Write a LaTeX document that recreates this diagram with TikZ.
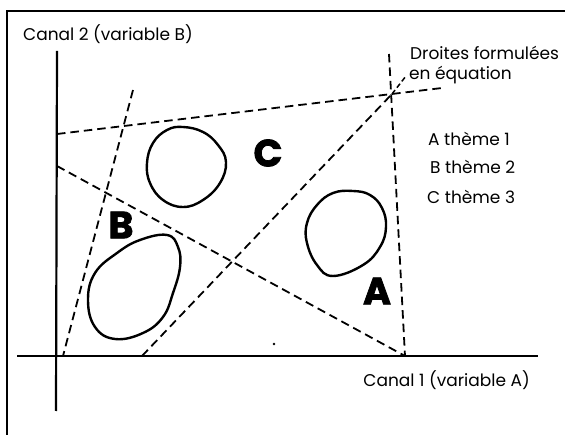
\documentclass[tikz,border=0pt]{standalone}
\usepackage{fontspec}
\setmainfont{Poppins}
\newfontfamily\heavy{Poppins}[BoldFeatures={FakeBold=2}]
\begin{document}
\begin{tikzpicture}[x=1pt,y=-1pt,
  axis/.style={line width=2.2pt},
  dline/.style={line width=1.8pt,dash pattern=on 8.5pt off 5pt},
  blob/.style={line width=2.4pt},
  lbl/.style={font=\fontsize{17}{19}\selectfont,inner sep=0pt},
  big/.style={font=\heavy\fontsize{38}{40}\selectfont\bfseries,inner sep=0pt}]
\useasboundingbox (0,0) rectangle (565,435);
\draw[line width=1.3pt] (565,11) -- (7,11) -- (7,435);
% axes
\coordinate (ytop) at (57,51);
\coordinate (ybot) at (56,411);
\coordinate (xl) at (17,356);
\coordinate (xr) at (538,356);
\draw[axis] (ytop) -- (ybot);
\draw[axis] (xl) -- (xr);
% dashed lines
\coordinate (P) at (392,94);
\coordinate (t1) at (57,134);
\coordinate (t2) at (442,88);
\coordinate (v1) at (389,54);
\coordinate (v2) at (405,356);
\coordinate (s1) at (57,166);
\coordinate (l1) at (133,90);
\coordinate (l2) at (63,356);
\coordinate (m1) at (142,356);
\coordinate (lead) at (406,76);
\draw[dline] (t1) -- (t2);
\draw[dline] (v1) -- (v2);
\draw[dline] (s1) -- (v2);
\draw[dline] (l1) -- (l2);
\draw[dline] (m1) -- (P);
\draw[line width=1.5pt,dash pattern=on 5pt off 3pt] (P) -- (lead);
% blobs
\draw[blob] plot[smooth cycle,tension=0.7] coordinates {(183,127) (203,132) (218,145) (226,162) (220,183) (203,200) (183,207) (163,200) (150,183) (147,163) (153,143) (167,130)};
\draw[blob] plot[smooth cycle,tension=0.7] coordinates {(353,191) (370,195) (382,208) (386,227) (380,247) (363,265) (333,276) (317,265) (307,243) (307,223) (317,205) (333,193)};
\draw[blob] plot[smooth cycle,tension=0.7] coordinates {(167,235) (178,247) (180,267) (173,293) (163,317) (143,333) (115,339) (95,327) (88,300) (95,273) (117,253) (140,240)};
\fill (274,344) circle (1.3pt);
% labels
\node[lbl,anchor=west] (ylab) at (23,34) {Canal 2 (variable B)};
\node[lbl,anchor=east] (xlab) at (530,380) {Canal 1 (variable A)};
\node[lbl,anchor=west] (dr1) at (410,53) {Droites formulées};
\node[lbl,anchor=west] (dr2) at (409,75) {en équation};
\node[lbl,anchor=west] (la) at (428,139) {A thème 1};
\node[lbl,anchor=west] (lb) at (430,167) {B thème 2};
\node[lbl,anchor=west] (lc) at (427,197) {C thème 3};
\node[big] (C) at (268,153) {C};
\node[big] (B) at (121,225) {B};
\node[big] (A) at (377,291) {A};
\end{tikzpicture}
\end{document}
